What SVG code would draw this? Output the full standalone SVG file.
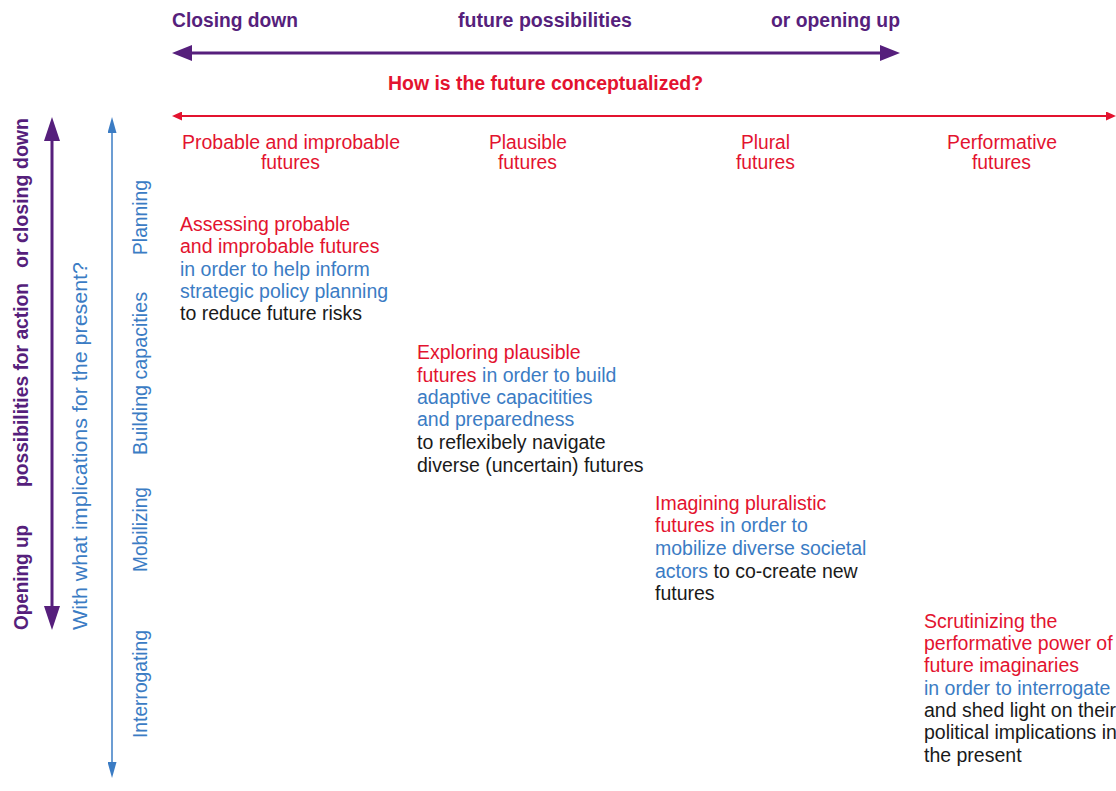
<svg xmlns="http://www.w3.org/2000/svg" width="1116" height="791" viewBox="0 0 1116 791">
  <style>
    text { font-family: "Liberation Sans", Arial, sans-serif; }
    .purple { fill: #561f7c; }
    .red { fill: #e3132f; }
    .blue { fill: #3b7cc4; }
    .black { fill: #1a1a1a; }
    .hdr { font-size: 19.5px; font-weight: bold; }
    .lbl { font-size: 20px; }
    .body { font-size: 19.5px; }
  </style>
  <defs>
    <marker id="headPurpleH" viewBox="0 0 20 16" refX="0" refY="8" markerWidth="20" markerHeight="16" markerUnits="userSpaceOnUse" orient="auto-start-reverse">
      <path d="M0,0 L20,8 L0,16 z" fill="#561f7c"/>
    </marker>
    <marker id="headPurpleV" viewBox="0 0 24 16" refX="0" refY="8" markerWidth="24" markerHeight="16" markerUnits="userSpaceOnUse" orient="auto-start-reverse">
      <path d="M0,0 L24,8 L0,16 z" fill="#561f7c"/>
    </marker>
    <marker id="headRed" viewBox="0 0 10 9" refX="0" refY="4.5" markerWidth="10" markerHeight="9" markerUnits="userSpaceOnUse" orient="auto-start-reverse">
      <path d="M0,0 L10,4.5 L0,9 z" fill="#e3132f"/>
    </marker>
    <marker id="headBlue" viewBox="0 0 16 9" refX="0" refY="4.5" markerWidth="16" markerHeight="9" markerUnits="userSpaceOnUse" orient="auto-start-reverse">
      <path d="M0,0 L16,4.5 L0,9 z" fill="#3b7cc4"/>
    </marker>
  </defs>

  <rect width="1116" height="791" fill="#ffffff"/>

  <!-- axes -->
  <g id="connectors">
    <line x1="192" y1="53" x2="880" y2="53" stroke="#561f7c" stroke-width="3" marker-start="url(#headPurpleH)" marker-end="url(#headPurpleH)"/>
    <line x1="182" y1="116" x2="1106" y2="116" stroke="#e3132f" stroke-width="2" marker-start="url(#headRed)" marker-end="url(#headRed)"/>
    <line x1="52" y1="141" x2="52" y2="606" stroke="#561f7c" stroke-width="3" marker-start="url(#headPurpleV)" marker-end="url(#headPurpleV)"/>
    <line x1="112" y1="133" x2="112" y2="762" stroke="#3b7cc4" stroke-width="1.5" marker-start="url(#headBlue)" marker-end="url(#headBlue)"/>
  </g>

  <!-- horizontal axis titles -->
  <g id="top-axis">
    <text class="hdr purple" x="172" y="27" textLength="126" lengthAdjust="spacingAndGlyphs">Closing down</text>
    <text class="hdr purple" x="458" y="27" textLength="174" lengthAdjust="spacingAndGlyphs">future possibilities</text>
    <text class="hdr purple" x="771" y="27" textLength="129" lengthAdjust="spacingAndGlyphs">or opening up</text>
    <text class="hdr red" x="388" y="90" textLength="315" lengthAdjust="spacingAndGlyphs">How is the future conceptualized?</text>
  </g>

  <!-- column headings -->
  <g id="col-probable">
    <text class="lbl red" x="182" y="149" textLength="218" lengthAdjust="spacingAndGlyphs">Probable and improbable</text>
    <text class="lbl red" x="261" y="169" textLength="59" lengthAdjust="spacingAndGlyphs">futures</text>
  </g>
  <g id="col-plausible">
    <text class="lbl red" x="489" y="149" textLength="78" lengthAdjust="spacingAndGlyphs">Plausible</text>
    <text class="lbl red" x="498" y="169" textLength="59" lengthAdjust="spacingAndGlyphs">futures</text>
  </g>
  <g id="col-plural">
    <text class="lbl red" x="741" y="149" textLength="49" lengthAdjust="spacingAndGlyphs">Plural</text>
    <text class="lbl red" x="736" y="169" textLength="59" lengthAdjust="spacingAndGlyphs">futures</text>
  </g>
  <g id="col-performative">
    <text class="lbl red" x="947" y="149" textLength="110" lengthAdjust="spacingAndGlyphs">Performative</text>
    <text class="lbl red" x="972" y="169" textLength="59" lengthAdjust="spacingAndGlyphs">futures</text>
  </g>

  <!-- vertical axis titles -->
  <g id="left-axis">
    <text class="hdr purple" transform="translate(28,630) rotate(-90)" textLength="105" lengthAdjust="spacingAndGlyphs">Opening up</text>
    <text class="hdr purple" transform="translate(28,487) rotate(-90)" textLength="204" lengthAdjust="spacingAndGlyphs">possibilities for action</text>
    <text class="hdr purple" transform="translate(28,268) rotate(-90)" textLength="150" lengthAdjust="spacingAndGlyphs">or closing down</text>
    <text class="lbl blue" transform="translate(87,630) rotate(-90)" textLength="368" lengthAdjust="spacingAndGlyphs">With what implications for the present?</text>
  </g>

  <!-- row headings -->
  <g id="row-planning">
    <text class="lbl blue" transform="translate(147,255) rotate(-90)" textLength="75" lengthAdjust="spacingAndGlyphs">Planning</text>
  </g>
  <g id="row-building">
    <text class="lbl blue" transform="translate(147,455) rotate(-90)" textLength="163" lengthAdjust="spacingAndGlyphs">Building capacities</text>
  </g>
  <g id="row-mobilizing">
    <text class="lbl blue" transform="translate(147,572) rotate(-90)" textLength="85" lengthAdjust="spacingAndGlyphs">Mobilizing</text>
  </g>
  <g id="row-interrogating">
    <text class="lbl blue" transform="translate(147,738) rotate(-90)" textLength="108" lengthAdjust="spacingAndGlyphs">Interrogating</text>
  </g>

  <!-- cell descriptions -->
  <g id="cell-planning" class="body">
    <text class="body red" x="180" y="231">Assessing probable</text>
    <text class="body red" x="180" y="253">and improbable futures</text>
    <text class="body blue" x="180" y="276">in order to help inform</text>
    <text class="body blue" x="180" y="298">strategic policy planning</text>
    <text class="body black" x="180" y="320">to reduce future risks</text>
  </g>
  <g id="cell-building">
    <text class="body red" x="417" y="359">Exploring plausible</text>
    <text class="body" x="417" y="382"><tspan class="red">futures</tspan><tspan class="blue"> in order to build</tspan></text>
    <text class="body blue" x="417" y="404">adaptive capacitities</text>
    <text class="body blue" x="417" y="426">and preparedness</text>
    <text class="body black" x="417" y="449">to reflexibely navigate</text>
    <text class="body black" x="417" y="472">diverse (uncertain) futures</text>
  </g>
  <g id="cell-mobilizing">
    <text class="body red" x="655" y="510">Imagining pluralistic</text>
    <text class="body" x="655" y="532"><tspan class="red">futures</tspan><tspan class="blue"> in order to</tspan></text>
    <text class="body blue" x="655" y="555">mobilize diverse societal</text>
    <text class="body" x="655" y="578"><tspan class="blue">actors</tspan><tspan class="black"> to co-create new</tspan></text>
    <text class="body black" x="655" y="600">futures</text>
  </g>
  <g id="cell-interrogating">
    <text class="body red" x="924" y="628">Scrutinizing the</text>
    <text class="body red" x="924" y="650">performative power of</text>
    <text class="body red" x="924" y="672">future imaginaries</text>
    <text class="body blue" x="924" y="695">in order to interrogate</text>
    <text class="body black" x="924" y="717">and shed light on their</text>
    <text class="body black" x="924" y="739">political implications in</text>
    <text class="body black" x="924" y="762">the present</text>
  </g>
</svg>
